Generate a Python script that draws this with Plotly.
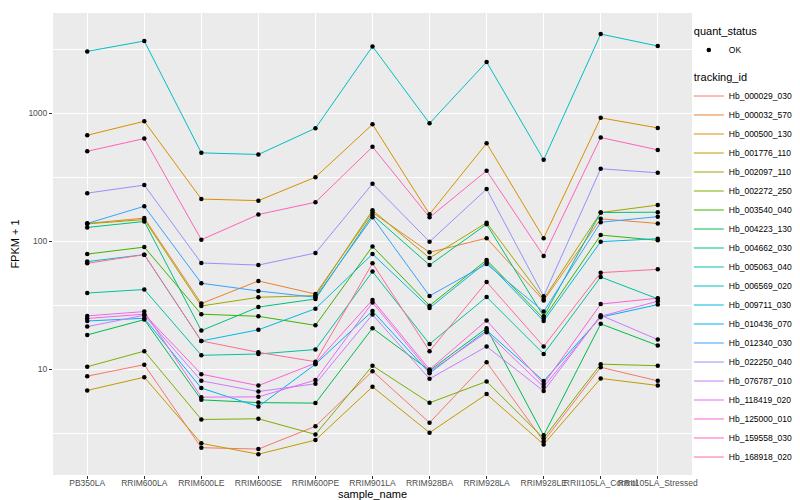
import plotly.graph_objects as go

samples = ["PB350LA", "RRIM600LA", "RRIM600LE", "RRIM600SE", "RRIM600PE", "RRIM901LA",
           "RRIM928BA", "RRIM928LA", "RRIM928LE", "RRII105LA_Control", "RRII105LA_Stressed"]

tracking_ids = ["Hb_000029_030", "Hb_000032_570", "Hb_000500_130", "Hb_001776_110", "Hb_002097_110",
                "Hb_002272_250", "Hb_003540_040", "Hb_004223_130", "Hb_004662_030", "Hb_005063_040",
                "Hb_006569_020", "Hb_009711_030", "Hb_010436_070", "Hb_012340_030", "Hb_022250_040",
                "Hb_076787_010", "Hb_118419_020", "Hb_125000_010", "Hb_159558_030", "Hb_168918_020"]

colors = ["#F8766D", "#EA8331", "#D89000", "#C09B00", "#A3A500", "#7CAE00", "#39B600", "#00BB4E",
          "#00BF7D", "#00C1A3", "#00BFC4", "#00BAE0", "#00B0F6", "#35A2FF", "#9590FF", "#C77CFF",
          "#E76BF3", "#FA62DB", "#FF62BC", "#FF6C91"]

Hb_000029_030 = [8.87, 10.9, 2.45, 2.39, 3.60, 9.70, 3.84, 11.4, 2.75, 10.4, 8.15]
Hb_000032_570 = [138, 152, 32.7, 49.1, 38.8, 168, 82.1, 106, 34.5, 150, 138]
Hb_000500_130 = [674, 866, 214, 208, 317, 820, 163, 583, 106, 921, 769]
Hb_001776_110 = [6.86, 8.7, 2.65, 2.18, 2.81, 7.32, 3.21, 6.42, 2.6, 8.51, 7.50]
Hb_002097_110 = [137, 148, 31.3, 36.6, 37.7, 175, 74.2, 140, 35.5, 168, 192]
Hb_002272_250 = [10.5, 13.9, 4.07, 4.12, 3.11, 10.7, 5.49, 8.06, 2.9, 11.0, 10.7]
Hb_003540_040 = [79.6, 90.2, 27.0, 26.0, 22.1, 91.4, 31.5, 71.5, 25.0, 112, 102]
Hb_004223_130 = [18.6, 24.5, 5.79, 5.51, 5.46, 21.0, 9.8, 21.0, 3.06, 22.7, 15.4]
Hb_004662_030 = [128.5, 143, 20.1, 30.7, 35.5, 161, 65.3, 136, 26.0, 168, 169]
Hb_005063_040 = [39.5, 42.1, 12.9, 13.2, 14.3, 58.1, 15.8, 36.8, 13.2, 52.7, 35.6]
Hb_006569_020 = [3043, 3666, 491, 477, 764, 3327, 835, 2518, 433, 4154, 3350]
Hb_009711_030 = [69.5, 78.8, 16.7, 20.4, 29.8, 79.6, 30.2, 69.0, 23.9, 99.4, 105]
Hb_010436_070 = [23.9, 25.1, 7.15, 5.13, 11.0, 28.6, 9.35, 20.2, 8.11, 25.6, 32.1]
Hb_012340_030 = [138, 188, 47.1, 41.0, 36.6, 154, 37.5, 66.5, 28.3, 141, 156]
Hb_022250_040 = [238, 275, 67.8, 65.3, 81.1, 282, 99.4, 256, 37.3, 369, 343]
Hb_076787_010 = [21.6, 26.5, 8.15, 6.72, 7.73, 26.8, 8.45, 15.1, 6.78, 26.5, 17.1]
Hb_118419_020 = [26.2, 28.3, 6.08, 6.11, 8.26, 33.3, 9.6, 19.5, 7.3, 26.0, 34.1]
Hb_125000_010 = [25.0, 27.0, 9.19, 7.48, 11.2, 34.9, 10.0, 24.1, 7.7, 32.4, 36.0]
Hb_159558_030 = [505, 635, 103, 162, 202, 547, 154, 356, 76.8, 647, 518]
Hb_168918_020 = [67.4, 78.8, 16.7, 13.6, 11.5, 67.4, 13.9, 48.2, 15.1, 57.0, 60.5]

series = [Hb_000029_030, Hb_000032_570, Hb_000500_130, Hb_001776_110, Hb_002097_110,
          Hb_002272_250, Hb_003540_040, Hb_004223_130, Hb_004662_030, Hb_005063_040,
          Hb_006569_020, Hb_009711_030, Hb_010436_070, Hb_012340_030, Hb_022250_040,
          Hb_076787_010, Hb_118419_020, Hb_125000_010, Hb_159558_030, Hb_168918_020]

y_ticks = [10, 100, 1000]
y_minor = [10 ** 0.5, 10 ** 1.5, 10 ** 2.5, 10 ** 3.5]

FONT = "Liberation Sans, Arial, sans-serif"

fig = go.Figure()
for i, (name, vals) in enumerate(zip(tracking_ids, series)):
    fig.add_trace(go.Scatter(
        x=samples, y=vals, mode="lines", name=name,
        line=dict(color=colors[i], width=1),
        legendgroup="tid",
        legendgrouptitle=dict(text="tracking_id", font=dict(size=11, color="black")),
        legendrank=100 + i,
    ))

all_x = [s for vals in series for s in samples]
all_y = [v for vals in series for v in vals]
fig.add_trace(go.Scatter(
    x=all_x, y=all_y, mode="markers", name="OK",
    marker=dict(color="black", size=4.5),
    legendgroup="qs",
    legendgrouptitle=dict(text="quant_status", font=dict(size=11, color="black")),
    legendrank=1,
))

fig.update_layout(
    width=800, height=500,
    margin=dict(l=45, r=116, t=5, b=33),
    paper_bgcolor="white", plot_bgcolor="#EBEBEB",
    font=dict(family=FONT, size=9, color="#4D4D4D"),
    legend=dict(x=0.995, xanchor="left", y=0.5, yanchor="middle",
                font=dict(size=8.5, color="black"), tracegroupgap=8,
                bgcolor="rgba(0,0,0,0)"),
    xaxis=dict(
        type="category", range=[-0.6, 10.6],
        showgrid=True, gridcolor="white", gridwidth=1.1, zeroline=False,
        ticks="outside", ticklen=3, tickcolor="#333333", tickwidth=1,
        tickangle=0, tickfont=dict(size=8.5, color="#4D4D4D"),
        ticklabelstandoff=-3,
        title=dict(text="sample_name", font=dict(size=11, color="black"), standoff=1),
        showline=False, automargin=False,
    ),
    yaxis=dict(
        type="log", range=[0.176, 3.783],
        tickmode="array", tickvals=y_ticks, ticktext=[str(t) for t in y_ticks],
        showgrid=True, gridcolor="white", gridwidth=1.1, zeroline=False,
        ticks="outside", ticklen=3, tickcolor="#333333", tickwidth=1,
        tickfont=dict(size=8.5, color="#4D4D4D"),
        minor=dict(tickmode="array", tickvals=y_minor, showgrid=True, gridcolor="white",
                   gridwidth=0.5, ticks=""),
        title=dict(text="FPKM + 1", font=dict(size=11, color="black"), standoff=6),
        showline=False, automargin=False,
    ),
)

fig.write_html("out.html")
